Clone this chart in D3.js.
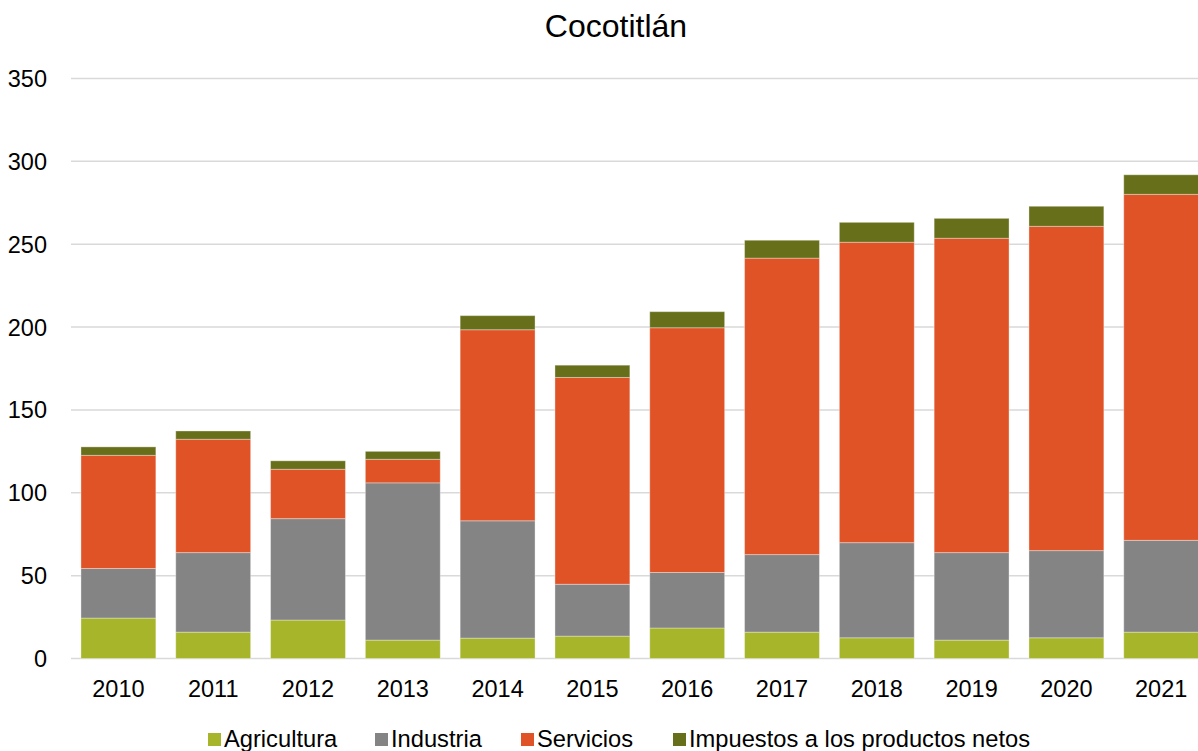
<!DOCTYPE html>
<html>
<head>
<meta charset="utf-8">
<script src="https://cdn.jsdelivr.net/npm/d3@7"></script>
<style>
  html, body { margin: 0; padding: 0; background: #fff; }
  svg { display: block; font-family: "Liberation Sans", Arial, sans-serif; }
</style>
</head>
<body>
<svg id="chart" width="1198" height="751"></svg>
<script>
const title = "Cocotitlán";
const years = ["2010","2011","2012","2013","2014","2015","2016","2017","2018","2019","2020","2021"];
const seriesNames = ["Agricultura", "Industria", "Servicios", "Impuestos a los productos netos"];
const agricultura = [24.4, 15.9, 23.2, 11.1, 12.3, 13.5, 18.4, 15.9, 12.5, 11.1, 12.5, 15.9];
const industria   = [29.9, 48.0, 61.2, 94.9, 70.8, 31.3, 33.5, 46.8, 57.4, 52.8, 52.6, 55.4];
const servicios   = [68.3, 68.4, 29.8, 14.2, 115.3, 124.8, 147.7, 178.9, 181.3, 189.7, 195.7, 208.8];
const impuestos   = [5.1, 5.0, 5.1, 4.8, 8.5, 7.4, 9.7, 10.8, 12.0, 12.0, 12.1, 11.8];
const yTicks = [0, 50, 100, 150, 200, 250, 300, 350];
const colors = ["#A6B529", "#848484", "#E05327", "#676F1A"];

const svg = d3.select("#chart");
const W = 1198, H = 751;
const left = 71, step = 94.8, y0 = 658.5, yTop = 78.5;

const x = d3.scaleBand().domain(years)
  .range([left, left + step * years.length])
  .paddingInner(0.21).paddingOuter(0.105);
const y = d3.scaleLinear().domain([0, 350]).range([y0, yTop]);

const rows = years.map((yr, i) => ({
  year: yr,
  "Agricultura": agricultura[i],
  "Industria": industria[i],
  "Servicios": servicios[i],
  "Impuestos a los productos netos": impuestos[i]
}));
const stacked = d3.stack().keys(seriesNames)(rows);

// gridlines
svg.append("g").selectAll("line").data(yTicks).join("line")
  .attr("x1", left).attr("x2", W)
  .attr("y1", d => y(d)).attr("y2", d => y(d))
  .attr("stroke", "#d9d9d9").attr("stroke-width", 1.5);

// y labels
svg.append("g").selectAll("text").data(yTicks).join("text")
  .attr("x", 47).attr("y", d => y(d))
  .attr("dy", "0.36em")
  .attr("text-anchor", "end")
  .attr("font-size", 23.5).attr("fill", "#000")
  .text(d => d);

// bars
svg.append("g").selectAll("g").data(stacked).join("g")
  .attr("fill", (d, i) => colors[i])
  .selectAll("rect").data(d => d).join("rect")
  .attr("x", d => x(d.data.year))
  .attr("width", x.bandwidth())
  .attr("y", d => y(d[1]))
  .attr("height", d => y(d[0]) - y(d[1]))
  .attr("stroke", "#ffffff").attr("stroke-opacity", 0.35).attr("stroke-width", 1);

// x labels
svg.append("g").selectAll("text").data(years).join("text")
  .attr("x", d => x(d) + x.bandwidth() / 2)
  .attr("y", 697)
  .attr("text-anchor", "middle")
  .attr("font-size", 23.5).attr("fill", "#000")
  .text(d => d);

// title
svg.append("text")
  .attr("x", 616).attr("y", 37)
  .attr("text-anchor", "middle")
  .attr("font-size", 32).attr("fill", "#000")
  .text(title);

// legend
const legendX = [208, 375, 521, 673];
const lg = svg.append("g").selectAll("g").data(seriesNames).join("g")
  .attr("transform", (d, i) => `translate(${legendX[i]},0)`);
lg.append("rect").attr("x", 0).attr("y", 733).attr("width", 13).attr("height", 13)
  .attr("fill", (d, i) => colors[i]);
lg.append("text").attr("x", 16).attr("y", 747)
  .attr("font-size", 23.7).attr("fill", "#000")
  .text(d => d);
</script>
</body>
</html>
